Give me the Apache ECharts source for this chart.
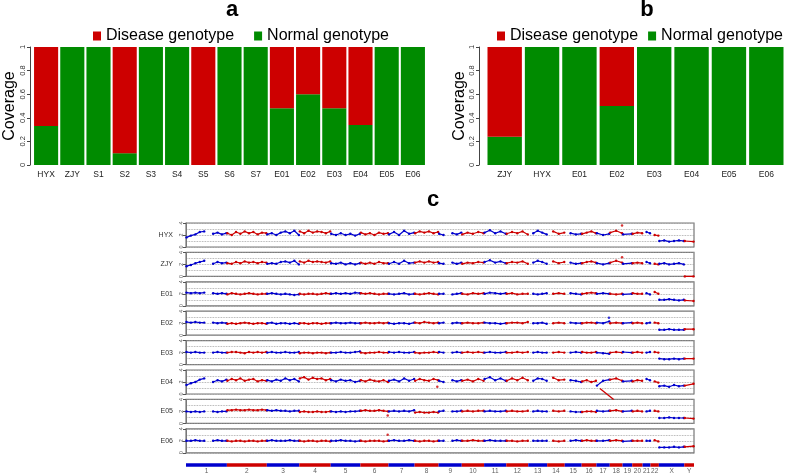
<!DOCTYPE html>
<html>
<head>
  <meta charset="utf-8">
</head>
<body style="margin: 0">
  <div id="container" style="width: 787px; height: 474px"></div>
  <script type="text/javascript" src="https://cdn.jsdelivr.net/npm/echarts@6/dist/echarts.min.js"></script>
  <script type="text/javascript">
    // R colours: red3 / green4 / blue3
    var RED = '#CD0000', GREEN = '#008B00', BLUE = '#0000CD';
    var FONT = 'Liberation Sans';

    // panel a
    var samplesA = ['HYX', 'ZJY', 'S1', 'S2', 'S3', 'S4', 'S5', 'S6', 'S7', 'E01', 'E02', 'E03', 'E04', 'E05', 'E06'];
    var normalA = [0.33, 1, 1, 0.10, 1, 1, 0, 1, 1, 0.48, 0.60, 0.48, 0.34, 1, 1];
    var diseaseA = [0.67, 0, 0, 0.90, 0, 0, 1, 0, 0, 0.52, 0.40, 0.52, 0.66, 0, 0];

    // panel b
    var samplesB = ['ZJY', 'HYX', 'E01', 'E02', 'E03', 'E04', 'E05', 'E06'];
    var normalB = [0.24, 1, 1, 0.50, 1, 1, 1, 1];
    var diseaseB = [0.76, 0, 0, 0.50, 0, 0, 0, 0];

    // panel c : chromosomes (Mb) and copy number per bin
    var chromNames = ['1','2','3','4','5','6','7','8','9','10','11','12','13','14','15','16','17','18','19','20','21','22','X','Y'];
    var chromLen = [249, 243, 198, 191, 181, 171, 159, 146, 141, 136, 135, 134, 115, 107, 103, 90, 81, 78, 59, 63, 48, 51, 155, 59];
    var cnSamples = ['HYX', 'ZJY', 'E01', 'E02', 'E03', 'E04', 'E05', 'E06'];

    var cnHYX = [
      [1.6,1.9,2.1,2.5,2.6,null,2.2,2.4,2.1,2.3], [2.3,2.0,2.5,2.2,2.6,2.3,2.5,2.1,2.4,2.3],
      [2.1,2.3,2.0,2.4,2.6,2.3,2.7,2.0], [2.6,2.3,2.7,2.4,2.6,2.5,2.3,2.6],
      [2.2,2.0,2.3,2.0,2.2,1.9,2.2], [2.4,2.1,2.3,2.0,2.4,2.2,2.3],
      [2.1,2.5,2.0,2.7,2.2,2.4], [2.3,2.6,2.4,2.6,2.3,2.5], [2.2,2.0,null,2.3,2.1,2.4],
      [2.1,2.4,2.2,2.5,2.3], [2.4,2.8,2.3,2.6,2.2], [2.2,2.5,2.3,2.6,2.1], [null,2.3,2.7,2.4,2.1],
      [null,2.6,2.2,2.4], [null,2.3,2.1,2.2], [2.2,2.4,2.6,2.3], [2.3,2.0,2.2], [2.4,2.7,2.3],
      [2.1,2.2], [2.2,2.4,2.3], [null,2.5,2.3], [null,2.0,1.9],
      [1.0,1.1,0.9,1.0,1.1,1.0], [1.0,0.9]
    ];
    var cnZJY = [
      [1.7,1.9,2.2,2.4,2.6,null,2.1,2.4,2.2,2.3], [2.2,2.1,2.4,2.2,2.5,2.3,2.4,2.2,2.4,2.3],
      [2.1,2.2,2.1,2.4,2.5,2.3,2.6,2.0], [2.5,2.3,2.6,2.4,2.5,2.4,2.3,2.5],
      [2.2,2.1,2.3,2.0,2.2,2.0,2.2], [2.3,2.1,2.3,2.1,2.4,2.2,2.2],
      [2.1,2.4,2.1,2.6,2.2,2.3], [2.3,2.5,2.3,2.5,2.3,2.4], [2.2,2.1,null,2.3,2.1,2.3],
      [2.1,2.3,2.2,2.4,2.3], [2.4,2.7,2.3,2.5,2.2], [2.2,2.4,2.3,2.5,2.1], [null,2.3,2.6,2.4,2.1],
      [null,2.5,2.2,2.4], [null,2.3,2.1,2.2], [2.2,2.4,2.5,2.3], [2.2,2.0,2.2], [2.3,2.6,2.3],
      [2.1,2.2], [2.2,2.3,2.2], [null,2.4,2.2], [null,2.1,2.0],
      [2.1,2.2,2.0,2.1,2.2,2.0], [0.0,0.0]
    ];
    var cnE01 = [
      [2.2,2.1,2.2,2.1,2.2,null,2.1,2.0,2.1,2.0], [1.9,2.1,2.0,1.9,2.0,2.1,2.0,1.9,2.0,2.0],
      [2.0,2.1,2.0,1.9,2.0,1.9,1.8,1.9], [2.0,1.9,2.0,2.0,1.9,2.0,2.1,2.0],
      [2.0,2.1,2.0,2.1,2.0,2.2,2.1], [2.1,2.0,2.1,2.0,1.9,2.0,2.0],
      [2.0,1.9,2.0,2.1,1.9,2.0], [2.0,1.9,2.0,2.1,2.0,1.9], [2.0,2.0,null,1.9,2.0,2.1],
      [2.0,1.9,2.1,2.0,2.1], [2.0,2.2,2.1,2.0,2.1], [2.0,2.1,1.9,2.0,2.0], [null,2.0,1.9,2.0,2.1],
      [null,2.0,2.1,2.0], [null,2.1,2.0,1.9], [2.0,2.1,2.2,2.1], [2.0,2.1,2.0], [2.0,1.9,2.0],
      [1.9,2.0], [2.1,2.0,2.0], [null,2.1,1.9], [null,2.3,2.0],
      [1.0,1.0,1.1,1.0,0.9,1.0], [0.9,0.8]
    ];
    var cnE02 = [
      [2.2,2.1,2.2,2.1,2.1,null,2.1,2.0,2.1,2.0], [1.9,2.0,1.9,2.0,2.1,2.0,1.9,2.0,2.0,1.9],
      [2.0,2.1,1.9,2.0,2.0,1.9,2.0,1.9], [2.0,2.0,1.9,2.0,2.0,1.9,2.0,2.0],
      [2.0,2.1,2.0,2.0,2.1,2.0,2.0], [2.0,2.1,2.0,2.0,2.1,2.0,2.1],
      [2.0,1.9,2.0,2.0,1.9,2.1], [2.1,2.0,2.2,2.1,2.0,2.1], [2.0,2.1,null,2.0,2.1,2.0],
      [2.0,2.1,2.0,2.0,2.1], [2.1,2.0,2.0,1.9,2.0], [2.0,2.1,2.1,2.0,2.2], [null,2.0,2.0,2.1,1.9],
      [null,2.0,2.1,2.0], [null,2.1,2.0,2.0], [2.0,2.1,2.1,2.0], [2.1,2.0,2.3], [2.0,2.1,2.0],
      [2.0,2.1], [2.0,2.1,2.0], [null,2.0,2.1], [null,2.1,2.0],
      [0.9,0.9,1.0,0.9,0.9,0.9], [1.0,1.0]
    ];
    var cnE03 = [
      [2.1,2.0,2.1,2.0,2.0,null,2.0,2.1,2.0,2.0], [2.0,2.1,2.1,2.0,1.9,2.1,2.0,2.1,2.0,2.1],
      [2.0,2.1,2.0,2.0,2.1,2.0,2.0,2.1], [1.9,2.0,2.0,1.9,2.0,2.0,1.9,2.0],
      [2.0,2.0,2.1,2.0,2.0,2.1,2.2], [2.0,1.9,2.0,2.0,2.1,2.0,2.0],
      [2.1,2.0,2.1,2.0,2.0,2.1], [2.0,1.9,2.0,2.0,2.1,2.0], [2.1,2.0,null,2.0,2.1,2.0],
      [2.0,2.1,2.0,2.1,2.0], [2.0,2.1,2.0,2.0,2.1], [2.0,2.0,2.1,2.0,2.1], [null,2.0,2.1,2.0,2.0],
      [null,2.0,2.1,2.0], [null,2.0,2.1,2.0], [2.1,2.0,2.0,2.1], [2.0,1.9,1.8], [2.0,2.1,2.0],
      [2.1,2.0], [2.0,2.1,2.0], [null,2.0,2.1], [null,2.1,2.0],
      [1.0,0.9,0.9,1.0,0.9,1.0], [1.0,1.0]
    ];
    var cnE04 = [
      [1.5,1.8,2.0,2.4,2.6,null,2.0,2.3,2.1,2.4], [2.2,2.5,2.3,2.6,2.2,2.4,2.5,2.1,2.3,2.2],
      [2.3,2.1,2.4,2.2,2.6,2.3,2.5,2.1], [2.6,2.8,2.4,2.7,2.5,2.6,2.3,2.5],
      [2.3,2.1,2.4,2.2,2.3,2.0,2.2], [2.3,2.1,2.4,2.2,2.1,2.3,2.0],
      [2.2,2.4,2.1,2.6,2.2,2.5], [2.2,2.5,2.3,2.2,2.5,2.3], [2.2,2.0,null,2.3,2.1,2.3],
      [2.2,2.4,2.1,2.5,2.2], [2.5,2.8,2.3,2.6,2.2], [2.2,2.6,2.3,2.7,2.3], [null,2.2,2.6,2.5,2.2],
      [null,2.7,2.3,2.4], [null,2.3,2.2,2.0], [2.1,2.3,2.0,2.2], [1.4,2.2,2.4], [2.4,2.6,2.2],
      [2.1,2.2], [2.1,2.3,2.2], [null,2.5,2.3], [null,2.1,1.9],
      [1.3,1.4,1.2,1.5,1.3,1.4], [1.4,1.7]
    ];
    var cnE05 = [
      [2.0,1.9,2.0,1.9,2.0,null,2.0,1.9,2.0,2.0], [2.2,2.2,2.3,2.2,2.2,2.3,2.2,2.2,2.3,2.2],
      [2.2,2.1,2.2,2.1,2.1,2.0,2.1,2.1], [1.9,2.0,1.9,1.9,2.0,1.9,1.9,2.0],
      [2.0,1.9,2.0,1.9,2.0,2.0,2.1], [2.1,2.2,2.1,2.1,2.2,2.1,2.0],
      [2.0,2.1,2.0,2.1,2.0,2.2], [1.8,1.9,1.8,1.8,1.9,1.8], [2.0,2.1,null,2.0,2.0,2.1],
      [2.0,2.1,2.0,2.1,2.1], [2.0,2.1,2.0,2.0,2.1], [2.0,2.1,2.0,2.0,2.1], [null,2.0,2.1,2.0,2.0],
      [null,2.1,2.0,2.1], [null,2.0,1.9,1.9], [1.9,2.0,2.0,1.9], [2.1,2.0,2.1], [2.1,2.2,2.0],
      [2.0,2.1], [2.0,2.1,2.0], [null,2.0,2.1], [null,2.1,2.0],
      [0.9,0.9,1.0,0.9,0.9,0.9], [0.9,0.8]
    ];
    var cnE06 = [
      [2.0,2.0,2.1,2.0,2.0,null,2.0,2.1,2.0,2.0], [2.0,1.9,2.0,2.0,1.9,2.0,2.0,1.9,2.0,2.0],
      [2.0,2.1,2.0,2.0,2.0,2.1,2.0,2.0], [2.0,1.9,2.0,2.0,1.9,2.0,2.0,1.9],
      [2.0,2.0,2.1,2.0,2.0,1.9,2.0], [2.0,1.9,2.0,2.0,2.0,1.9,2.0],
      [2.0,2.1,2.0,2.0,2.1,2.0], [2.0,1.9,2.0,2.0,1.9,2.0], [2.0,2.0,null,2.0,2.1,2.0],
      [2.0,2.0,2.1,2.0,2.0], [2.0,2.1,2.0,2.0,2.0], [2.0,2.0,1.9,2.0,2.0], [null,2.0,2.0,2.0,2.0],
      [null,2.0,1.9,2.0], [null,2.0,2.1,2.0], [2.0,2.1,2.0,2.0], [2.0,2.0,2.1], [2.0,2.1,2.0],
      [1.9,2.0], [2.0,2.0,2.0], [null,2.0,2.0], [null,2.1,1.9],
      [0.9,0.9,0.9,1.0,0.9,1.0], [1.0,1.1]
    ];
    var cnData = [cnHYX, cnZJY, cnE01, cnE02, cnE03, cnE04, cnE05, cnE06];

    // single outlying points (sample index, position Mb, value)
    var outSample = [0, 1, 3, 5, 6, 7];
    var outPos = [2655, 2655, 2575, 1530, 1228, 1228];
    var outVal = [3.6, 3.2, 2.9, 1.2, 1.3, 3.0];

    // arrow pointing at the E04 dip (Mb, copy number on the E04 scale)
    var arrowFrom = [2604, -0.9];
    var arrowTo = [2520, 0.9];

    var chromStart = [];
    var acc = 0;
    chromLen.forEach(function (l) { chromStart.push(acc); acc += l; });
    var genomeLen = acc;
    function chromColor(c) { return c % 2 === 0 ? BLUE : RED; }
    function chromOf(pos) {
      for (var c = chromLen.length - 1; c >= 0; c--) if (pos >= chromStart[c]) return c;
      return 0;
    }

    var dom = document.getElementById('container');
    var myChart = echarts.init(dom, null, { renderer: 'canvas' });

    var grids = [], xAxes = [], yAxes = [], series = [];

    function barPanel(left, width, axisOffset, nameGap, cats, normal, disease) {
      var gi = grids.length;
      grids.push({ left: left, top: 47, width: width, height: 118 });
      xAxes.push({
        type: 'category', gridIndex: gi, data: cats,
        axisLine: { show: false }, axisTick: { show: false },
        axisLabel: { interval: 0, fontSize: 8.5, color: '#222', margin: 5, fontFamily: FONT }
      });
      yAxes.push({
        type: 'value', gridIndex: gi, min: 0, max: 1, interval: 0.2, offset: axisOffset,
        axisLine: { show: true, lineStyle: { color: '#444', width: 1 } },
        axisTick: { show: true, length: 3, lineStyle: { color: '#444' } },
        axisLabel: { rotate: 90, fontSize: 7.5, color: '#333', margin: 3, fontFamily: FONT,
          formatter: function (v) { return String(+v.toFixed(1)); } },
        splitLine: { show: false },
        name: 'Coverage', nameLocation: 'middle', nameRotate: 90, nameGap: nameGap,
        nameTextStyle: { fontSize: 16, color: '#000', fontFamily: FONT }
      });
      series.push({
        type: 'bar', name: 'Normal genotype', xAxisIndex: gi, yAxisIndex: gi, stack: 's' + gi,
        data: normal, barWidth: '92%', itemStyle: { color: GREEN }, silent: true
      });
      series.push({
        type: 'bar', name: 'Disease genotype', xAxisIndex: gi, yAxisIndex: gi, stack: 's' + gi,
        data: disease, barWidth: '92%', itemStyle: { color: RED }, silent: true
      });
    }
    barPanel(33, 393, 3, 12, samplesA, normalA, diseaseA);
    barPanel(486, 299, 7, 10, samplesB, normalB, diseaseB);

    // copy number strips
    var stripLeft = 186, stripWidth = 508, stripTop = 223, stripPitch = 29.4, stripH = 24;
    cnSamples.forEach(function (name, s) {
      var gi = grids.length;
      grids.push({ left: stripLeft, width: stripWidth, top: stripTop + s * stripPitch, height: stripH,
        show: true, borderColor: '#777', borderWidth: 1.2 });
      xAxes.push({ type: 'value', gridIndex: gi, min: 0, max: genomeLen, show: false });
      yAxes.push({
        type: 'value', gridIndex: gi, min: 0, max: 4, interval: 2,
        axisLine: { show: true, lineStyle: { color: '#777' } },
        axisTick: { show: true, length: 3, lineStyle: { color: '#555' } },
        axisLabel: { rotate: 90, fontSize: 5.5, color: '#555', margin: 2, fontFamily: FONT },
        splitLine: { show: true, lineStyle: { color: '#999', type: 'dotted', width: 0.8 } },
        minorTick: { show: false, splitNumber: 2 },
        minorSplitLine: { show: true, lineStyle: { color: '#999', type: 'dotted', width: 0.8 } },
        name: name, nameLocation: 'middle', nameRotate: 0, nameGap: 13,
        nameTextStyle: { fontSize: 7, color: '#333', fontFamily: FONT, align: 'right' }
      });
      cnData[s].forEach(function (vals, c) {
        // bins spread from just inside the chromosome start to its end
        var n = vals.length;
        var span = chromLen[c] - 6;
        var col = chromColor(c);
        series.push({
          type: 'line', xAxisIndex: gi, yAxisIndex: gi, silent: true,
          data: vals.map(function (v, i) {
            var x = n === 1 ? chromStart[c] + chromLen[c] / 2 : chromStart[c] + 3 + span * i / (n - 1);
            return [x, v === null ? '-' : v];
          }),
          symbol: 'circle', symbolSize: 2.4, showAllSymbol: true, connectNulls: false,
          lineStyle: { width: 1.2, color: col }, itemStyle: { color: col }
        });
      });
    });

    // outliers
    outSample.forEach(function (s, k) {
      var col = chromColor(chromOf(outPos[k]));
      series.push({
        type: 'scatter', xAxisIndex: 2 + s, yAxisIndex: 2 + s, silent: true,
        symbolSize: 2.5, itemStyle: { color: col }, data: [[outPos[k], outVal[k]]]
      });
    });

    // overlay on E04 (same scale, extended one unit below) for the arrow
    var e04 = cnSamples.indexOf('E04');
    var gArrow = grids.length;
    grids.push({ left: stripLeft, width: stripWidth, top: stripTop + e04 * stripPitch,
      height: stripH * 5 / 4 });
    xAxes.push({ type: 'value', gridIndex: gArrow, min: 0, max: genomeLen, show: false });
    yAxes.push({ type: 'value', gridIndex: gArrow, min: -1, max: 4, show: false });
    series.push({
      type: 'scatter', xAxisIndex: gArrow, yAxisIndex: gArrow, silent: true,
      symbolSize: 0, data: [arrowTo],
      markLine: {
        silent: true, symbol: ['none', 'arrow'], symbolSize: [0, 7],
        lineStyle: { color: RED, width: 1.3, type: 'solid' }, label: { show: false },
        data: [[{ coord: arrowFrom }, { coord: arrowTo }]]
      }
    });

    // chromosome bar
    var gBar = grids.length;
    grids.push({ left: stripLeft, width: stripWidth, top: 459, height: 12 });
    xAxes.push({ type: 'value', gridIndex: gBar, min: 0, max: genomeLen, show: false });
    yAxes.push({ type: 'value', gridIndex: gBar, min: -1, max: 1, show: false });
    chromLen.forEach(function (l, c) {
      series.push({
        type: 'line', xAxisIndex: gBar, yAxisIndex: gBar, silent: true, symbol: 'none',
        lineStyle: { width: 3.5, color: chromColor(c) },
        data: [[chromStart[c], 0], [chromStart[c] + l, 0]]
      });
    });
    series.push({
      type: 'scatter', xAxisIndex: gBar, yAxisIndex: gBar, silent: true, symbolSize: 1,
      clip: false,
      itemStyle: { color: 'rgba(0,0,0,0)' },
      label: { show: true, position: 'bottom', distance: 2, formatter: '{b}',
        fontSize: 6.5, color: '#333', fontFamily: FONT },
      labelLayout: { hideOverlap: false },
      data: chromNames.map(function (n, c) {
        return { name: n, value: [chromStart[c] + chromLen[c] / 2, 0] };
      })
    });

    var legendBase = {
      top: 28, padding: 0, icon: 'rect', itemWidth: 8, itemHeight: 9,
      selectedMode: false,
      data: ['Disease genotype', 'Normal genotype'],
      textStyle: { fontSize: 16, color: '#000', fontFamily: FONT }
    };

    var option = {
      animation: false,
      textStyle: { fontFamily: FONT },
      legend: [
        Object.assign({}, legendBase, { left: 93, itemGap: 20 }),
        Object.assign({}, legendBase, { left: 497, itemGap: 10 })
      ],
      graphic: [
        { type: 'text', x: 232, y: 9.5, style: { text: 'a', font: 'bold 22px ' + FONT, fill: '#000', align: 'center', verticalAlign: 'middle' } },
        { type: 'text', x: 647, y: 9.5, style: { text: 'b', font: 'bold 22px ' + FONT, fill: '#000', align: 'center', verticalAlign: 'middle' } },
        { type: 'text', x: 433, y: 199.5, style: { text: 'c', font: 'bold 22px ' + FONT, fill: '#000', align: 'center', verticalAlign: 'middle' } }
      ],
      grid: grids,
      xAxis: xAxes,
      yAxis: yAxes,
      series: series
    };

    myChart.setOption(option);
    window.addEventListener('resize', myChart.resize);
  </script>
</body>
</html>
